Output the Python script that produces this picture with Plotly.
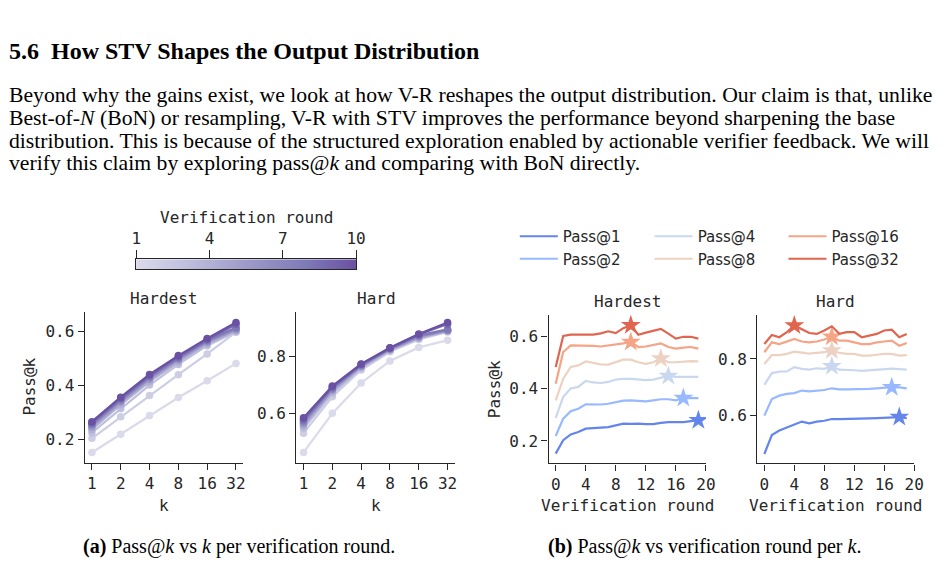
import numpy as np
import plotly.graph_objects as go
from plotly.colors import sample_colorscale

# ---------------- data ----------------
ks = [1, 2, 4, 8, 16, 32]
rounds = list(range(1, 11))
verif_rounds = list(range(20))

a_hardest = [
    [0.150, 0.218, 0.288, 0.355, 0.417, 0.482],
    [0.203, 0.283, 0.362, 0.440, 0.517, 0.598],
    [0.224, 0.314, 0.401, 0.478, 0.548, 0.600],
    [0.236, 0.328, 0.414, 0.487, 0.555, 0.603],
    [0.244, 0.336, 0.421, 0.493, 0.559, 0.606],
    [0.249, 0.340, 0.425, 0.497, 0.562, 0.609],
    [0.253, 0.344, 0.429, 0.500, 0.565, 0.612],
    [0.257, 0.348, 0.433, 0.503, 0.568, 0.616],
    [0.261, 0.352, 0.437, 0.507, 0.571, 0.628],
    [0.265, 0.356, 0.441, 0.511, 0.575, 0.634],
]
a_hard = [
    [0.464, 0.600, 0.706, 0.783, 0.830, 0.855],
    [0.531, 0.658, 0.751, 0.815, 0.858, 0.884],
    [0.547, 0.669, 0.757, 0.819, 0.861, 0.886],
    [0.555, 0.675, 0.760, 0.821, 0.863, 0.887],
    [0.561, 0.680, 0.763, 0.822, 0.865, 0.888],
    [0.566, 0.683, 0.765, 0.824, 0.867, 0.889],
    [0.570, 0.686, 0.767, 0.825, 0.869, 0.891],
    [0.575, 0.689, 0.769, 0.826, 0.872, 0.893],
    [0.580, 0.692, 0.771, 0.828, 0.875, 0.912],
    [0.585, 0.695, 0.772, 0.829, 0.877, 0.917],
]

pass_names = ["Pass@1", "Pass@2", "Pass@4", "Pass@8", "Pass@16", "Pass@32"]
b_hardest = [
    [0.152, 0.203, 0.225, 0.234, 0.247, 0.250, 0.251, 0.253, 0.260, 0.266, 0.265, 0.266, 0.264, 0.264, 0.269, 0.272, 0.272, 0.272, 0.276, 0.279],
    [0.219, 0.285, 0.313, 0.323, 0.340, 0.340, 0.339, 0.342, 0.348, 0.354, 0.355, 0.352, 0.351, 0.355, 0.359, 0.359, 0.355, 0.364, 0.363, 0.363],
    [0.288, 0.368, 0.400, 0.406, 0.429, 0.423, 0.421, 0.425, 0.434, 0.437, 0.437, 0.435, 0.432, 0.434, 0.440, 0.448, 0.444, 0.444, 0.444, 0.444],
    [0.355, 0.437, 0.482, 0.488, 0.503, 0.498, 0.492, 0.491, 0.500, 0.510, 0.510, 0.500, 0.494, 0.500, 0.514, 0.500, 0.500, 0.503, 0.504, 0.503],
    [0.418, 0.539, 0.564, 0.564, 0.564, 0.562, 0.560, 0.564, 0.566, 0.572, 0.577, 0.558, 0.560, 0.566, 0.572, 0.558, 0.552, 0.556, 0.558, 0.552],
    [0.482, 0.600, 0.605, 0.605, 0.605, 0.605, 0.610, 0.618, 0.611, 0.630, 0.641, 0.605, 0.613, 0.619, 0.627, 0.609, 0.590, 0.597, 0.597, 0.590],
]
b_hard = [
    [0.463, 0.530, 0.546, 0.557, 0.567, 0.578, 0.572, 0.578, 0.581, 0.587, 0.587, 0.587, 0.587, 0.588, 0.589, 0.590, 0.592, 0.592, 0.594, 0.590],
    [0.599, 0.658, 0.670, 0.676, 0.679, 0.688, 0.685, 0.688, 0.690, 0.696, 0.692, 0.692, 0.692, 0.693, 0.694, 0.696, 0.698, 0.700, 0.699, 0.696],
    [0.708, 0.750, 0.755, 0.756, 0.771, 0.765, 0.762, 0.767, 0.765, 0.774, 0.762, 0.762, 0.760, 0.758, 0.760, 0.762, 0.765, 0.766, 0.764, 0.762],
    [0.782, 0.814, 0.814, 0.818, 0.826, 0.822, 0.819, 0.822, 0.824, 0.830, 0.822, 0.818, 0.818, 0.812, 0.812, 0.815, 0.818, 0.818, 0.812, 0.814],
    [0.824, 0.859, 0.853, 0.862, 0.871, 0.862, 0.859, 0.862, 0.869, 0.879, 0.865, 0.865, 0.859, 0.853, 0.853, 0.859, 0.862, 0.865, 0.847, 0.857],
    [0.853, 0.885, 0.877, 0.895, 0.919, 0.904, 0.892, 0.889, 0.901, 0.916, 0.889, 0.895, 0.895, 0.877, 0.883, 0.889, 0.901, 0.904, 0.877, 0.889],
]

colorbar_ticks = [1, 4, 7, 10]

heading = "<b>5.6\u2002How STV Shapes the Output Distribution</b>"
paragraph = [
    "Beyond why the gains exist, we look at how V-R reshapes the output distribution. Our claim is that, unlike",
    "Best-of-<i>N</i> (BoN) or resampling, V-R with STV improves the performance beyond sharpening the base",
    "distribution. This is because of the structured exploration enabled by actionable verifier feedback. We will",
    "verify this claim by exploring pass@<i>k</i> and comparing with BoN directly.",
]
caption_a = "<b>(a)</b> Pass@<i>k</i> vs <i>k</i> per verification round."
caption_b = "<b>(b)</b> Pass@<i>k</i> vs verification round per <i>k</i>."

# ---------------- styling ----------------
W, H = 949, 580
INK = "#262626"
MONO = "DejaVu Sans Mono"
SERIF = "Liberation Serif"
purples = [[0.0, "#dadaeb"], [0.25, "#bcbddc"], [0.5, "#9e9ac8"], [0.75, "#807dba"], [1.0, "#6a51a3"]]
round_colors = sample_colorscale(purples, [(r - 1) / 9 for r in rounds])
pass_colors = ["#6385ec", "#98b9ff", "#cad8ef", "#edd1c2", "#f5a486", "#e0654f"]


def px_x(p):
    return p / W


def px_y(p):
    return 1 - p / H


fig = go.Figure()

# (a) panels
for data, xa, ya in [(a_hardest, "x", "y"), (a_hard, "x2", "y2")]:
    for r, vals, col in zip(rounds, data, round_colors):
        fig.add_trace(go.Scatter(
            x=ks, y=vals, mode="lines+markers", xaxis=xa, yaxis=ya,
            line=dict(color=col, width=2.2), marker=dict(color=col, size=7.5),
            showlegend=False, name=f"round {r}"))

# (b) panels
legend_ids = ["legend", "legend", "legend2", "legend2", "legend3", "legend3"]
for data, xa, ya, show in [(b_hardest, "x3", "y3", True), (b_hard, "x4", "y4", False)]:
    for name, vals, col, lg in zip(pass_names, data, pass_colors, legend_ids):
        fig.add_trace(go.Scatter(
            x=verif_rounds, y=vals, mode="lines", xaxis=xa, yaxis=ya,
            line=dict(color=col, width=2.2), name=name,
            showlegend=show, legend=lg))
        i = int(np.argmax(vals))
        fig.add_trace(go.Scatter(
            x=[verif_rounds[i]], y=[vals[i]], mode="markers", xaxis=xa, yaxis=ya,
            marker=dict(symbol="star", size=15, color=col, line=dict(width=0)),
            showlegend=False, hoverinfo="skip"))

# colorbar drawn as heatmap strip
cb_x = np.linspace(1, 10, 300)
fig.add_trace(go.Heatmap(
    x=cb_x, y=[0], z=[cb_x], colorscale=purples, zmin=1, zmax=10,
    showscale=False, xaxis="x5", yaxis="y5", hoverinfo="skip"))

tickfont = dict(family=MONO, size=16, color=INK)
axis_common = dict(showgrid=False, zeroline=False, showline=True, linecolor=INK,
                   linewidth=1.4, ticks="outside", ticklen=6, tickwidth=1.3,
                   tickcolor=INK, tickfont=tickfont)

log_range = [np.log10(2) * -0.25, np.log10(2) * 5.25]
fig.update_layout(
    width=W, height=H, margin=dict(l=0, r=0, t=0, b=0),
    paper_bgcolor="white", plot_bgcolor="white",
    xaxis=dict(domain=[px_x(81), px_x(242)], anchor="y", type="log", range=log_range,
               tickvals=ks, ticktext=[str(k) for k in ks], **axis_common),
    yaxis=dict(domain=[px_y(462.7), px_y(311.7)], anchor="x", range=[0.112, 0.6745],
               tickvals=[0.2, 0.4, 0.6], tickformat=".1f", **axis_common),
    xaxis2=dict(domain=[px_x(296), px_x(457)], anchor="y2", type="log", range=log_range,
                tickvals=ks, ticktext=[str(k) for k in ks], **axis_common),
    yaxis2=dict(domain=[px_y(462.7), px_y(311.7)], anchor="x2", range=[0.428, 0.9545],
                tickvals=[0.6, 0.8], tickformat=".1f", **axis_common),
    xaxis3=dict(domain=[px_x(552.3), px_x(712.3)], anchor="y3", range=[-0.95, 20.02],
                tickvals=[0, 4, 8, 12, 16, 20], **axis_common),
    yaxis3=dict(domain=[px_y(463.3), px_y(315)], anchor="x3", range=[0.115, 0.68],
                tickvals=[0.2, 0.4, 0.6], tickformat=".1f", **axis_common),
    xaxis4=dict(domain=[px_x(764.3), px_x(924)], anchor="y4", range=[-0.95, 20.02],
                tickvals=[0, 4, 8, 12, 16, 20], **axis_common),
    yaxis4=dict(domain=[px_y(463.3), px_y(315)], anchor="x4", range=[0.43, 0.956],
                tickvals=[0.6, 0.8], tickformat=".1f", **axis_common),
    xaxis5=dict(domain=[px_x(133.3), px_x(356.7)], anchor="y5", range=[1, 10], side="top",
                tickvals=colorbar_ticks, showgrid=False, zeroline=False, showline=True,
                mirror=True, linecolor=INK, linewidth=1.4, ticks="outside", ticklen=8,
                tickwidth=1.3, tickcolor=INK, tickfont=tickfont),
    yaxis5=dict(domain=[px_y(269), px_y(259.3)], anchor="x5", range=[-0.5, 0.5],
                showticklabels=False, ticks="", showgrid=False, zeroline=False,
                showline=True, mirror=True, linecolor=INK, linewidth=1.4),
)

legend_common = dict(font=dict(family="DejaVu Sans", size=15, color=INK),
                     bgcolor="rgba(0,0,0,0)", xanchor="left", yanchor="top",
                     orientation="v", itemwidth=38)
fig.update_layout(
    legend=dict(x=px_x(518), y=px_y(220), **legend_common),
    legend2=dict(x=px_x(655), y=px_y(220), **legend_common),
    legend3=dict(x=px_x(791), y=px_y(220), **legend_common),
)

ann = []
# heading and paragraph
ann.append(dict(text=heading, x=px_x(2), y=px_y(51), xanchor="left", yanchor="middle",
                font=dict(family=SERIF, size=24, color="black")))
for i, line in enumerate(paragraph):
    ann.append(dict(text=line, x=px_x(2), y=px_y(95 + 22.8 * i), xanchor="left",
                    yanchor="middle", font=dict(family=SERIF, size=21.7, color="black")))
# captions
ann.append(dict(text=caption_a, x=px_x(238), y=px_y(546), xanchor="center", yanchor="middle",
                font=dict(family=SERIF, size=20, color="black")))
ann.append(dict(text=caption_b, x=px_x(711), y=px_y(546), xanchor="center", yanchor="middle",
                font=dict(family=SERIF, size=20, color="black")))
# subplot titles
labfont = dict(family=MONO, size=16, color=INK)
for txt, xc, yc in [("Hardest", 161.5, 298), ("Hard", 377, 298),
                    ("Hardest", 632, 301.5), ("Hard", 844, 301.5)]:
    ann.append(dict(text=txt, x=px_x(xc), y=px_y(yc), xanchor="center", yanchor="middle", font=labfont))
# axis labels
for txt, xc, yc in [("k", 161.5, 505), ("k", 376.5, 505),
                    ("Verification round", 632, 505), ("Verification round", 844, 505)]:
    ann.append(dict(text=txt, x=px_x(xc), y=px_y(yc), xanchor="center", yanchor="middle", font=labfont))
for xc, yc in [(25, 387), (497, 389)]:
    ann.append(dict(text="Pass@k", x=px_x(xc), y=px_y(yc), xanchor="center", yanchor="middle",
                    textangle=-90, font=labfont))
# colorbar title
ann.append(dict(text="Verification round", x=px_x(245), y=px_y(217), xanchor="center",
                yanchor="middle", font=labfont))
for a in ann:
    a.update(xref="paper", yref="paper", showarrow=False)
fig.update_layout(annotations=ann)

fig.write_html("out.html")
